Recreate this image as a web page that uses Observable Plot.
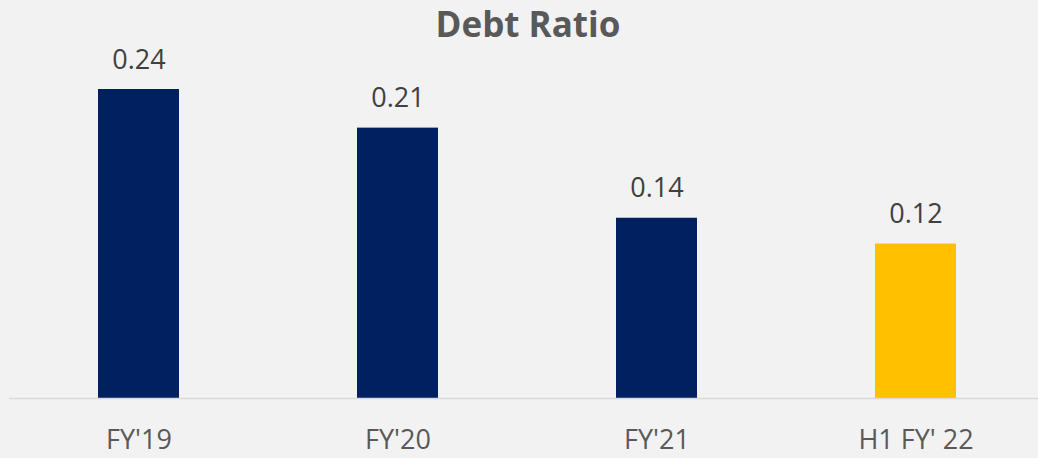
<!DOCTYPE html>
<html>
<head>
<meta charset="utf-8">
<script src="https://cdn.jsdelivr.net/npm/d3@7"></script>
<script src="https://cdn.jsdelivr.net/npm/@observablehq/plot@0.6"></script>
<style>
  html, body { margin: 0; padding: 0; background: #f2f2f2; }
  body { width: 1038px; height: 458px; overflow: hidden; font-family: "Open Sans", sans-serif; }
  #title { height: 38px; line-height: 48px; text-align: center; padding-left: 18px; box-sizing: border-box;
           font-size: 35px; font-weight: 700; color: #595959; white-space: nowrap; }
  svg { display: block; }
</style>
</head>
<body>
<div id="title">Debt Ratio</div>
<div id="chart"></div>
<script>
const categories = ["FY'19", "FY'20", "FY'21", "H1 FY' 22"];
const values = [0.24, 0.21, 0.14, 0.12];
const periods = ["Full year", "Full year", "Full year", "Half year"];
const labels = ["0.24", "0.21", "0.14", "0.12"];

const data = categories.map((c, i) => ({category: c, value: values[i], period: periods[i], label: labels[i]}));

const chart = Plot.plot({
  width: 1038,
  height: 420,
  marginLeft: 9,
  marginRight: 0,
  marginTop: 0,
  marginBottom: 60,
  style: {background: "transparent", fontFamily: "'Open Sans', sans-serif", overflow: "visible"},
  x: {domain: categories, range: [8.25, 1046.25], paddingInner: 0.688, paddingOuter: 0.344, label: null},
  y: {domain: [0, 0.24], range: [360, 51], axis: null},
  color: {domain: ["Full year", "Half year"], range: ["#002060", "#FFC000"]},
  marks: [
    Plot.barY(data, {x: "category", y: "value", fill: "period"}),
    Plot.ruleY([0], {stroke: "#d9d9d9", strokeWidth: 1.5}),
    Plot.text(data, {x: "category", y: "value", text: "label", lineAnchor: "bottom", dy: -21,
      fontSize: 27, fill: "#404040"}),
    Plot.axisX({tickSize: 0, tickPadding: 31, fontSize: 27, color: "#595959", label: null})
  ]
});
document.getElementById("chart").appendChild(chart);
</script>
</body>
</html>
